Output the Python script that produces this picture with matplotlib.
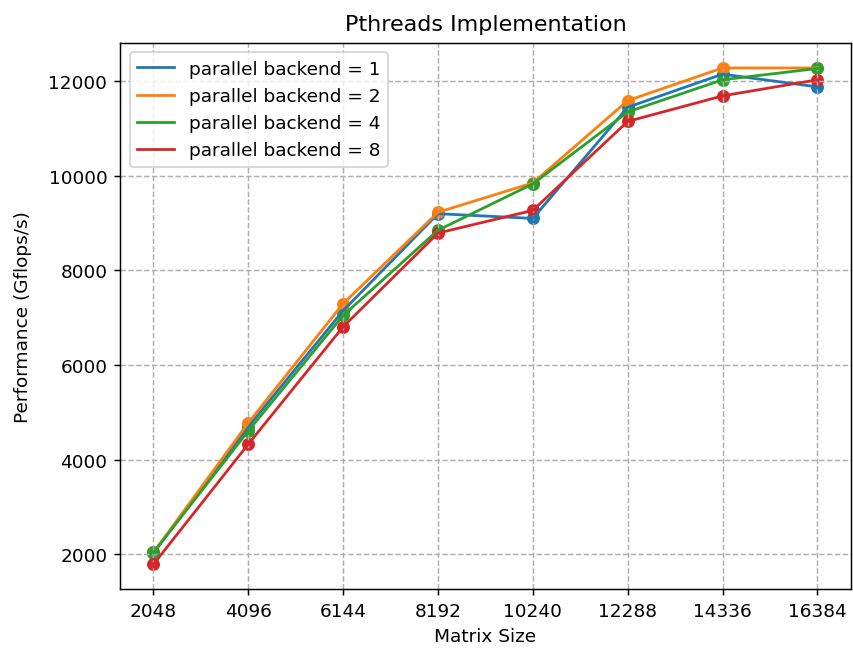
import numpy as np
import matplotlib
matplotlib.use('Agg')
import matplotlib.pyplot as plt

sizes = [2048, 4096, 6144, 8192, 10240, 12288, 14336, 16384]
backends = [1, 2, 4, 8]
perf_1 = [2030, 4700, 7150, 9200, 9100, 11450, 12150, 11880]
perf_2 = [2040, 4780, 7300, 9230, 9850, 11590, 12280, 12280]
perf_4 = [2040, 4610, 7050, 8850, 9830, 11350, 12030, 12270]
perf_8 = [1790, 4330, 6810, 8790, 9270, 11150, 11690, 12030]

fig = plt.figure(figsize=(6.4, 4.89), dpi=133.3)
ax = fig.add_subplot(111)
for b, p in zip(backends, [perf_1, perf_2, perf_4, perf_8]):
    line, = ax.plot(sizes, p, label='parallel backend = %d' % b)
    ax.scatter(sizes, p, color=line.get_color())

ax.set_xticks(sizes)
ax.set_title('Pthreads Implementation', pad=7)
ax.set_xlabel('Matrix Size')
ax.set_ylabel('Performance (Gflops/s)', labelpad=9)
ax.grid(True, linestyle='--', color='#b0b0b0')
ax.legend(loc='upper left')
plt.subplots_adjust(left=0.141, right=0.997, top=0.9325, bottom=0.095)
plt.savefig('out.png')
